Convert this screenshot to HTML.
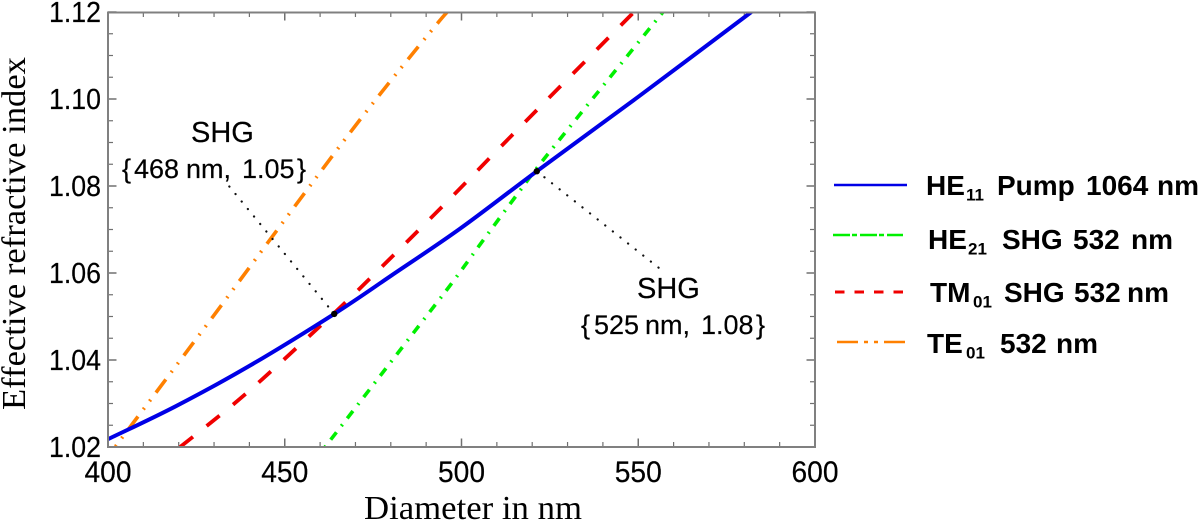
<!DOCTYPE html>
<html lang="en">
<head>
<meta charset="utf-8">
<title>Effective refractive index vs diameter</title>
<style>
html,body{margin:0;padding:0;background:#fff;width:1200px;height:521px;overflow:hidden}
svg{display:block;filter:blur(0.35px)}
.sans{font-family:"Liberation Sans",sans-serif;fill:#000;stroke:#000;stroke-width:0.2px}
.serif{font-family:"Liberation Serif",serif;fill:#000}
.leg{font-family:"Liberation Sans",sans-serif;font-weight:bold;font-size:28px;fill:#000}
.leg .sub{font-size:17px}
</style>
</head>
<body>
<svg id="chart" xmlns="http://www.w3.org/2000/svg" width="1200" height="521" viewBox="0 0 1200 521">
  <defs><clipPath id="plot-clip"><rect x="108" y="12" width="707" height="435"></rect></clipPath></defs>
  <g id="grid-ticks"></g>
  <g id="series" clip-path="url(#plot-clip)"></g>
  <g id="leaders"></g>
  <rect x="108" y="12.5" width="707" height="434.5" fill="none" stroke="#808080" stroke-width="2"></rect>
  <g id="labels"></g>

  <text class="serif" x="364" y="519" font-size="34" textLength="218" lengthAdjust="spacingAndGlyphs">Diameter in nm</text>
  <text class="serif" transform="translate(25,410) rotate(-90)" font-size="34" textLength="353" lengthAdjust="spacingAndGlyphs">Effective refractive index</text>

  <text class="sans" x="191" y="142" font-size="29">SHG</text>
  <text class="sans" y="178" font-size="27"><tspan x="122">{</tspan><tspan x="134">468</tspan><tspan x="186">nm,</tspan><tspan x="242">1.05</tspan><tspan x="297">}</tspan></text>
  <text class="sans" x="637" y="298" font-size="29">SHG</text>
  <text class="sans" y="334" font-size="27"><tspan x="581">{</tspan><tspan x="594">525</tspan><tspan x="645">nm,</tspan><tspan x="701">1.08</tspan><tspan x="756">}</tspan></text>

  <g>
    <line x1="834" x2="907" y1="185" y2="185" stroke="#0000e6" stroke-width="2.6"></line>
    <text class="leg"><tspan x="926" y="195">HE</tspan><tspan class="sub" x="966" y="200.5">11</tspan><tspan x="997" y="195">Pump</tspan><tspan x="1086" y="195">1064</tspan><tspan x="1157" y="195">nm</tspan></text>
    <line x1="833" x2="903" y1="235" y2="235" stroke="#00f000" stroke-width="2.5" stroke-dasharray="17 2 5 3"></line>
    <text class="leg"><tspan x="928" y="249">HE</tspan><tspan class="sub" x="968" y="254.5">21</tspan><tspan x="1002" y="249">SHG</tspan><tspan x="1073" y="249">532</tspan><tspan x="1131" y="249">nm</tspan></text>
    <line x1="835" x2="903" y1="292" y2="292" stroke="#f00000" stroke-width="3" stroke-dasharray="9.5 10"></line>
    <text class="leg"><tspan x="930" y="302">TM</tspan><tspan class="sub" x="973" y="307.5">01</tspan><tspan x="1004" y="302">SHG</tspan><tspan x="1074" y="302">532</tspan><tspan x="1127" y="302">nm</tspan></text>
    <line x1="837" x2="905" y1="342" y2="342" stroke="#ff8000" stroke-width="2.5" stroke-dasharray="21 6 4 6 4 6 22"></line>
    <text class="leg"><tspan x="927" y="353">TE</tspan><tspan class="sub" x="966" y="358.5">01</tspan><tspan x="1000" y="353">532</tspan><tspan x="1056" y="353">nm</tspan></text>
  </g>
</svg>
<script>
const xTickValues = [400, 450, 500, 550, 600];
const xTickLabels = ["400", "450", "500", "550", "600"];
const yTickValues = [1.02, 1.04, 1.06, 1.08, 1.10, 1.12];
const yTickLabels = ["1.02", "1.04", "1.06", "1.08", "1.10", "1.12"];
const xMinorTicks = [410, 420, 430, 440, 460, 470, 480, 490, 510, 520, 530, 540, 560, 570, 580, 590];
const yMinorTicks = [1.025, 1.03, 1.035, 1.045, 1.05, 1.055, 1.065, 1.07, 1.075, 1.085, 1.09, 1.095, 1.105, 1.11, 1.115];

const he11Diameter = [400, 419, 439.7, 464, 480.3, 499.6, 521.3, 550, 582];
const he11Index = [1.0218, 1.0293, 1.0385, 1.0506, 1.0595, 1.0702, 1.0834, 1.1005, 1.12];
const he21Diameter = [461.4, 487.8, 497.2, 506.2, 515.6, 525, 557];
const he21Index = [1.02, 1.0477, 1.0576, 1.0676, 1.0779, 1.0879, 1.12];
const tm01Diameter = [420.4, 438.8, 460, 470.8, 494.1, 514.2, 548.8];
const tm01Index = [1.02, 1.0321, 1.0478, 1.0561, 1.0749, 1.0916, 1.12];
const te01Diameter = [402, 429.33, 468.46, 492.98, 496.5];
const te01Index = [1.02, 1.04959, 1.09225, 1.11717, 1.12];

const markerDiameter = [464, 521.3];
const markerIndex = [1.0506, 1.0834];
const leaderEndDiameter = [433.7, 556.1];
const leaderEndIndex = [1.0805, 1.0610];

const xScale = d => 108 + (d - 400) * 3.535;
const yScale = n => 447 - (n - 1.02) * 4350;
const NS = "http://www.w3.org/2000/svg";

const tickLayer = document.getElementById("grid-ticks");
const labelLayer = document.getElementById("labels");
const seriesLayer = document.getElementById("series");
const leaderLayer = document.getElementById("leaders");

function svgEl(tag, parent, props) {
  const el = document.createElementNS(NS, tag);
  Object.keys(props).forEach(k => el.setAttribute(k, props[k]));
  parent.appendChild(el);
  return el;
}

function drawXTick(v, len, width) {
  const x = xScale(v);
  const bottom = svgEl("line", tickLayer, {x1: x, x2: x, y1: 447, y2: 447 - len, stroke: "#707070", "stroke-width": width});
  
  
  const top = svgEl("line", tickLayer, {x1: x, x2: x, y1: 12, y2: 12 + len, stroke: "#707070", "stroke-width": width});
  
  
}

function drawYTick(v, len, width) {
  const y = yScale(v);
  const left = svgEl("line", tickLayer, {x1: 108, x2: 108 + len, y1: y, y2: y, stroke: "#707070", "stroke-width": width});
  
  
  const right = svgEl("line", tickLayer, {x1: 815, x2: 815 - len, y1: y, y2: y, stroke: "#707070", "stroke-width": width});
  
  
}

xMinorTicks.forEach(v => drawXTick(v, 5, 1.2));
yMinorTicks.forEach(v => drawYTick(v, 5, 1.2));
xTickValues.forEach(v => drawXTick(v, 8.5, 1.5));
yTickValues.forEach(v => drawYTick(v, 8.5, 1.5));

xTickValues.forEach((v, i) => {
  const t = svgEl("text", labelLayer, {x: xScale(v), y: 482, "text-anchor": "middle", "font-size": 30, class: "sans", textLength: 47, lengthAdjust: "spacingAndGlyphs"});
  
  
  t.textContent = xTickLabels[i];
});
yTickValues.forEach((v, i) => {
  const t = svgEl("text", labelLayer, {x: 101, y: yScale(v) + 10, "text-anchor": "end", "font-size": 29, class: "sans", textLength: 52, lengthAdjust: "spacingAndGlyphs"});
  
  
  t.textContent = yTickLabels[i];
});

function smoothPath(xs, ys) {
  const p = xs.map((d, i) => [xScale(d), yScale(ys[i])]);
  let out = "M" + p[0][0].toFixed(2) + " " + p[0][1].toFixed(2);
  for (let i = 0; i < p.length - 1; i++) {
    const a = p[Math.max(i - 1, 0)], b = p[i], c = p[i + 1], e = p[Math.min(i + 2, p.length - 1)];
    const c1x = b[0] + (c[0] - a[0]) / 6, c1y = b[1] + (c[1] - a[1]) / 6;
    const c2x = c[0] - (e[0] - b[0]) / 6, c2y = c[1] - (e[1] - b[1]) / 6;
    out += " C" + [c1x, c1y, c2x, c2y, c[0], c[1]].map(n => n.toFixed(2)).join(" ");
  }
  return out;
}

function drawSeries(xs, ys, color, width, dash, offset) {
  const props = {d: smoothPath(xs, ys), fill: "none", stroke: color, "stroke-width": width, "stroke-linejoin": "round"};
  if (dash) {
    props["stroke-dasharray"] = dash;
    props["stroke-dashoffset"] = offset;
  }
  return svgEl("path", seriesLayer, props);
}

const te01Line = drawSeries(te01Diameter, te01Index, "#ff8000", 3.6, "16.5 8.9 1.8 8.5 1.8 8.9", 24.7);


const he21Line = drawSeries(he21Diameter, he21Index, "#00f000", 3.6, "9.3 8 1.8 7.8", 17.5);


const tm01Line = drawSeries(tm01Diameter, tm01Index, "#f00000", 3.8, "16.5 17.4", 0);


const he11Line = drawSeries(he11Diameter, he11Index, "#0000e6", 4, null, 0);



markerDiameter.forEach((d, i) => {
  const leader = svgEl("line", leaderLayer, {
    x1: xScale(d), y1: yScale(markerIndex[i]),
    x2: xScale(leaderEndDiameter[i]), y2: yScale(leaderEndIndex[i]),
    stroke: "#111", "stroke-width": 2.2, "stroke-linecap": "round", "stroke-dasharray": "0.1 9.6"
  });
  
  
  const dot = svgEl("circle", leaderLayer, {cx: xScale(d), cy: yScale(markerIndex[i]), r: 3.2, fill: "#000"});
  
  
});
</script>
</body>
</html>
